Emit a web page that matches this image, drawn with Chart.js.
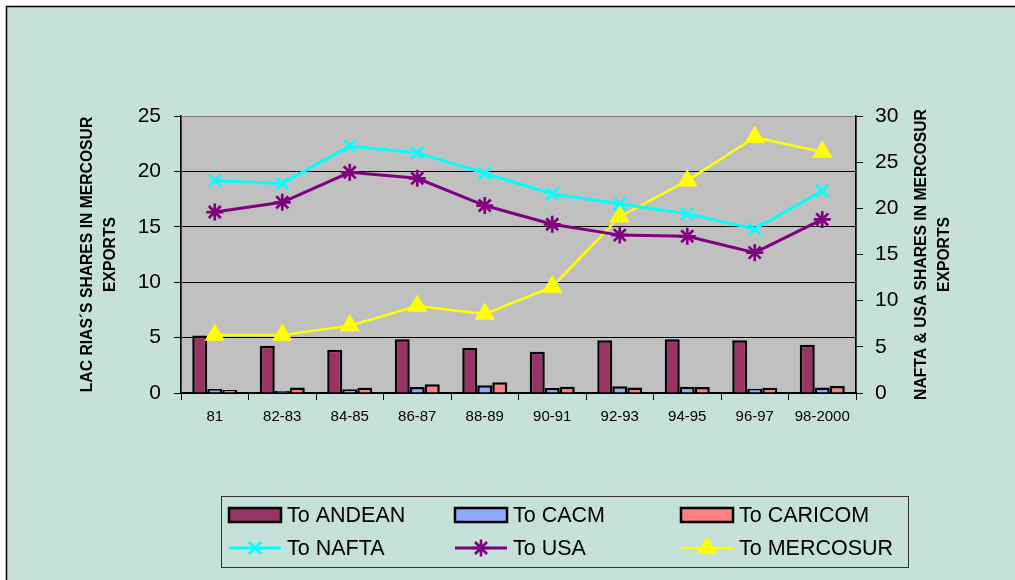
<!DOCTYPE html>
<html>
<head>
<meta charset="utf-8">
<script src="https://cdn.jsdelivr.net/npm/chart.js@4.4.0/dist/chart.umd.min.js"></script>
<style>
  html, body { margin: 0; padding: 0; background: #fff; }
  #wrap { width: 1015px; height: 580px; }
</style>
</head>
<body>
<div id="wrap"><canvas id="chart" width="1015" height="580"></canvas></div>
<script>
// periods on the x axis
const periods = ['81', '82-83', '84-85', '86-87', '88-89', '90-91', '92-93', '94-95', '96-97', '98-2000'];

// left axis (bars)
const toAndean = [5.2, 4.27, 3.9, 4.85, 4.06, 3.73, 4.75, 4.85, 4.75, 4.36];
const toCacm = [0.36, 0.2, 0.33, 0.54, 0.69, 0.45, 0.6, 0.57, 0.39, 0.5];
const toCaricom = [0.27, 0.5, 0.48, 0.78, 0.96, 0.57, 0.5, 0.54, 0.48, 0.63];

// right axis (lines)
const toNafta = [23.0, 22.7, 26.75, 26.0, 23.8, 21.55, 20.5, 19.4, 17.76, 21.9];
const toUsa = [19.6, 20.65, 23.9, 23.25, 20.3, 18.27, 17.1, 16.97, 15.2, 18.8];
const toMercosur = [6.28, 6.28, 7.29, 9.42, 8.56, 11.5, 19.1, 23.0, 27.7, 26.1];

const leftTicks = [0, 5, 10, 15, 20, 25];
const rightTicks = [0, 5, 10, 15, 20, 25, 30];

const leftTitle = ['LAC RIAS\u00b4S SHARES IN MERCOSUR', 'EXPORTS'];
const rightTitle = ['NAFTA & USA SHARES IN MERCOSUR', 'EXPORTS'];

const FONT = 'Arial, "Liberation Sans", sans-serif';

const chartBackground = {
    id: 'chartBackground',
    beforeDraw(chart) {
        const ctx = chart.ctx;
        const a = chart.chartArea;
        ctx.save();
        ctx.fillStyle = '#fff';
        ctx.fillRect(0, 0, chart.width, chart.height);
        ctx.fillStyle = '#c6e0da';
        ctx.fillRect(6, 6, chart.width, chart.height);
        ctx.strokeStyle = '#000';
        ctx.lineWidth = 1.5;
        ctx.beginPath();
        ctx.moveTo(6.5, chart.height);
        ctx.lineTo(6.5, 6.5);
        ctx.lineTo(chart.width, 6.5);
        ctx.stroke();
        ctx.fillStyle = '#c0c0c0';
        ctx.fillRect(a.left, a.top, a.right - a.left, a.bottom - a.top);
        ctx.strokeStyle = '#808080';
        ctx.lineWidth = 1;
        ctx.strokeRect(a.left + 0.5, a.top + 0.5, a.right - a.left, a.bottom - a.top);
        ctx.restore();
    }
};

const axisTitles = {
    id: 'axisTitles',
    afterDraw(chart) {
        const ctx = chart.ctx;
        const a = chart.chartArea;
        const cy = (a.top + a.bottom) / 2;
        ctx.save();
        ctx.fillStyle = '#000';
        ctx.font = 'bold 15.7px ' + FONT;
        ctx.textAlign = 'center';
        ctx.textBaseline = 'middle';
        [[leftTitle, 88], [rightTitle, 922]].forEach(([lines, x]) => {
            lines.forEach((t, i) => {
                ctx.save();
                ctx.translate(x + i * 23, cy);
                ctx.rotate(-Math.PI / 2);
                ctx.fillText(t, 0, 0);
                ctx.restore();
            });
        });
        ctx.restore();
    }
};

const boxLegend = {
    id: 'boxLegend',
    afterDraw(chart) {
        const ctx = chart.ctx;
        const sets = chart.data.datasets;
        ctx.save();
        ctx.strokeStyle = '#333';
        ctx.lineWidth = 1;
        ctx.strokeRect(221.5, 496.5, 687, 71);
        ctx.font = '21.5px ' + FONT;
        ctx.textBaseline = 'middle';
        ctx.textAlign = 'left';
        sets.forEach((ds, i) => {
            const x = 229 + (i % 3) * 226;
            const y = 515 + Math.floor(i / 3) * 33;
            if (ds.type === 'line') {
                ctx.strokeStyle = ds.borderColor;
                ctx.lineWidth = ds.borderWidth;
                ctx.beginPath();
                ctx.moveTo(x, y);
                ctx.lineTo(x + 52, y);
                ctx.stroke();
                ctx.fillStyle = ds.pointBackgroundColor;
                ctx.strokeStyle = ds.borderColor;
                ctx.lineWidth = ds.pointBorderWidth;
                Chart.helpers.drawPoint(ctx, {
                    pointStyle: ds.pointStyle, radius: ds.pointRadius, borderWidth: ds.pointBorderWidth
                }, x + 26, y);
            } else {
                ctx.fillStyle = ds.backgroundColor;
                ctx.fillRect(x, y - 7, 52, 14);
                ctx.strokeStyle = '#000';
                ctx.lineWidth = 2.5;
                ctx.strokeRect(x, y - 7, 52, 14);
            }
            ctx.fillStyle = '#000';
            ctx.fillText(ds.label, x + 58, y + 1);
        });
        ctx.restore();
    }
};

function barSet(label, data, color) {
    return {
        type: 'bar', label, data, yAxisID: 'y', order: 2,
        backgroundColor: color, borderColor: '#000', borderWidth: 2.5,
        categoryPercentage: 0.667, barPercentage: 1.0
    };
}

function lineSet(label, data, color, style, radius, width) {
    return {
        type: 'line', label, data, yAxisID: 'y2', order: 1,
        borderColor: color, backgroundColor: color, borderWidth: width,
        pointStyle: style, pointRadius: radius, pointBorderWidth: 2.7,
        pointBackgroundColor: color, pointBorderColor: color,
        tension: 0, fill: false
    };
}

new Chart(document.getElementById('chart'), {
    type: 'bar',
    data: {
        labels: periods,
        datasets: [
            barSet('To ANDEAN', toAndean, '#993366'),
            barSet('To CACM', toCacm, '#8fa8ff'),
            barSet('To CARICOM', toCaricom, '#ff8080'),
            lineSet('To NAFTA', toNafta, '#00ffff', 'crossRot', 8.5, 3),
            lineSet('To USA', toUsa, '#800080', 'star', 8.5, 3),
            lineSet('To MERCOSUR', toMercosur, '#ffff00', 'triangle', 9, 2.5)
        ]
    },
    options: {
        responsive: false,
        animation: false,
        layout: { padding: { top: 116, left: 0, right: 99, bottom: 147 } },
        plugins: { legend: { display: false }, tooltip: { enabled: false } },
        scales: {
            x: {
                offset: true,
                grid: { offset: true, drawOnChartArea: false, tickLength: 7, tickColor: '#000' },
                border: { display: true, color: '#000', width: 1.5 },
                ticks: { color: '#000', font: { family: FONT, size: 15 }, padding: 8, maxRotation: 0 },
                afterFit(s) { s.height = 40; }
            },
            y: {
                position: 'left', min: 0, max: 25,
                afterBuildTicks(s) { s.ticks = leftTicks.map(v => ({ value: v })); },
                grid: {
                    color: c => (c.tick.value === 25 ? '#808080' : '#000'),
                    lineWidth: 1, tickLength: 7, tickColor: '#000'
                },
                border: { display: true, color: '#000', width: 1.5 },
                ticks: { color: '#000', font: { family: FONT, size: 21 }, padding: 13 },
                afterFit(s) { s.width = 181; }
            },
            y2: {
                position: 'right', min: 0, max: 30,
                afterBuildTicks(s) { s.ticks = rightTicks.map(v => ({ value: v })); },
                grid: { drawOnChartArea: false, tickLength: 7, tickColor: '#000' },
                border: { display: true, color: '#000', width: 1.5 },
                ticks: { color: '#000', font: { family: FONT, size: 21 }, padding: 12 },
                afterFit(s) { s.width = 60; }
            }
        }
    },
    plugins: [chartBackground, axisTitles, boxLegend]
});
</script>
</body>
</html>
